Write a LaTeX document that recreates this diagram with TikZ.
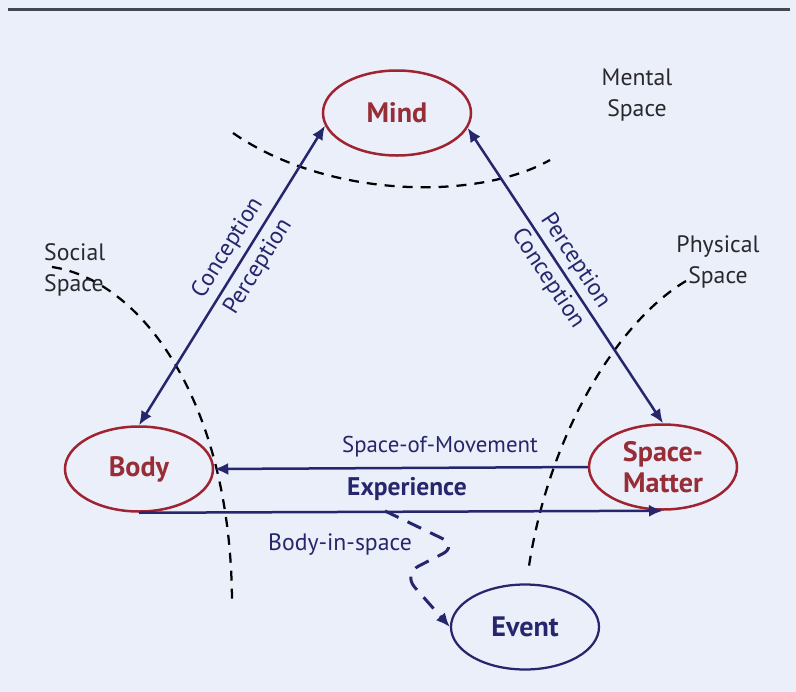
\documentclass[tikz,border=0pt]{standalone}
\usepackage{fontspec}
\setmainfont{PT Sans}
\usetikzlibrary{arrows.meta,shapes.geometric}
\definecolor{bgcol}{RGB}{235,239,249}
\definecolor{ellred}{RGB}{160,35,50}
\definecolor{txtred}{RGB}{150,45,55}
\definecolor{navy}{RGB}{38,38,108}
\definecolor{lbldark}{RGB}{40,40,45}
\definecolor{rulecol}{RGB}{70,70,78}
\tikzset{
  tip/.tip={Latex[length=2.8mm,width=2.4mm]},
  ellnode/.style={ellipse, draw=ellred, line width=0.5mm, minimum width=29.6mm, minimum height=17mm,
    inner sep=0pt, font=\fontsize{16}{18}\selectfont\bfseries, text=txtred, align=center},
  evnode/.style={ellnode, draw=navy, text=navy, line width=0.45mm},
  conn/.style={navy, line width=0.5mm},
  spc/.style={black, line width=0.45mm, dash pattern=on 2mm off 1.6mm},
  lbl/.style={font=\fontsize{13.5}{16}\selectfont, text=navy},
  blbl/.style={font=\fontsize{14.5}{16}\selectfont\bfseries, text=navy},
  splbl/.style={font=\fontsize{13.5}{17.6}\selectfont, text=lbldark}
}
\begin{document}
\begin{tikzpicture}[x=0.2mm,y=-0.2mm]
\fill[bgcol] (0,0) rectangle (796,692);
\useasboundingbox (0,0) rectangle (796,692);
\draw[rulecol, line width=0.6mm] (8,9) -- (790,9);

% space curves
\draw[spc] (233,133) .. controls (330,200) and (480,200) .. (550,160);
\draw[spc] (52,267) .. controls (140,280) and (232,400) .. (232,605);
\draw[spc] (686,281) .. controls (620,320) and (550,430) .. (529,566);

% labels of spaces
\node[splbl, align=center] (ms) at (637,95) {Mental\\Space};
\node[splbl, align=left, anchor=west] (ss) at (38,270) {Social\\Space};
\node[splbl, align=center] (ps) at (718,262) {Physical\\Space};

% main nodes
\node[ellnode] (mind) at (397,113) {Mind};
\node[ellnode] (body) at (139,469) {Body};
\node[ellnode] (sm) at (663,467) {Space-\\Matter};
\node[evnode] (event) at (525,627) {Event};

% connectors
\draw[conn, tip-tip] (body.north) -- node[sloped, above, pos=.56, lbl] {Conception}
  node[sloped, below, pos=.56, lbl] {Perception} (mind.190);
\draw[conn, tip-tip] (mind.-12) -- node[sloped, above, pos=.48, lbl, inner sep=2.5pt] {Perception}
  node[sloped, below, pos=.48, lbl, inner sep=2.5pt] {Conception} (sm.north);
\draw[conn, -tip] (sm.west) -- (body.east);
\draw[conn, -tip] (body.south) -- (sm.south);
\node[lbl, font=\fontsize{13}{16}\selectfont] (som) at (440,447) {Space-of-Movement};
\node[blbl] (exp) at (407,489) {Experience};

\coordinate (bis) at (385,511);
\draw[navy, line width=0.6mm, dash pattern=on 3mm off 2mm, rounded corners=10pt, -tip]
  (bis) -- (458,546) -- (403,574) -- (event.west);
\node[lbl] (bislbl) at (340,545) {Body-in-space};
\end{tikzpicture}
\end{document}
